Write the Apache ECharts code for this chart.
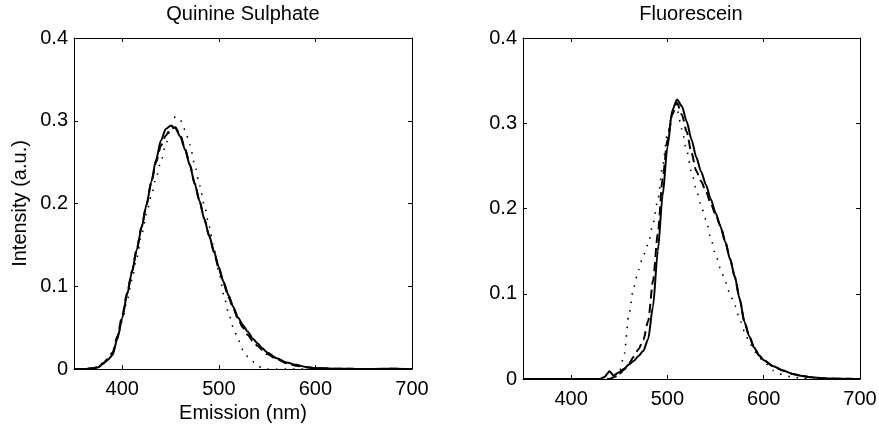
<!DOCTYPE html>
<html>
<head>
<meta charset="utf-8">
<script src="https://cdn.jsdelivr.net/npm/echarts@6/dist/echarts.min.js"></script>
<style>
html,body{margin:0;padding:0;background:#fff;}
#chart{width:879px;height:426px;}
</style>
</head>
<body>
<div id="chart"></div>
<script>
// ---- Panel titles & axis text ----
const panelTitles = ['Quinine Sulphate', 'Fluorescein'];
const xAxisName = 'Emission (nm)';
const yAxisName = 'Intensity (a.u.)';
const xLabelValues = [400, 500, 600, 700];
const xTickValues = [400, 500, 600];

// ---- Quinine Sulphate (left) ----
const qsWl = [350,360,370,375,380,385,390,395,400,405,410,415,420,425,430,435,440,445,450,455,460,465,470,475,480,485,490,495,500,505,510,515,520,525,530,535,540,545,550,560,570,580,590,600,620,640,660,680,700];
const qsSolid = [0,0,0.0005,0.002,0.006,0.011,0.017,0.037,0.062,0.09,0.117,0.144,0.171,0.198,0.226,0.253,0.276,0.29,0.294,0.291,0.281,0.265,0.246,0.224,0.203,0.181,0.161,0.142,0.123,0.105,0.089,0.075,0.062,0.053,0.045,0.037,0.031,0.025,0.02,0.013,0.008,0.005,0.0025,0.0012,0.0004,0.0002,0.0001,0.0004,0];
const qsDashed = [0,0,0.001,0.003,0.007,0.012,0.02,0.04,0.065,0.092,0.118,0.145,0.172,0.198,0.225,0.25,0.27,0.282,0.29,0.292,0.283,0.266,0.247,0.224,0.203,0.181,0.161,0.141,0.121,0.103,0.087,0.073,0.06,0.05,0.041,0.034,0.028,0.023,0.018,0.012,0.007,0.004,0.002,0.001,0.0003,0.0001,0,0.0002,0];
const qsDotted = [0,0,0.001,0.003,0.007,0.012,0.02,0.037,0.058,0.083,0.108,0.135,0.162,0.187,0.209,0.231,0.251,0.271,0.291,0.305,0.301,0.289,0.271,0.247,0.222,0.198,0.172,0.145,0.118,0.09,0.068,0.05,0.035,0.023,0.015,0.009,0.004,0.001,0,0,0,0,0,0,0,0,0,0,0];

// ---- Fluorescein (right) ----
const flWl = [350,360,370,380,390,400,410,420,430,434,440,444,450,455,460,465,470,475,480,485,490,495,500,505,510,515,520,525,530,535,540,545,550,555,560,565,570,575,580,585,590,595,600,610,620,630,640,650,660,680,700];
const flSolid = [0,0,0,0,0,0,0,0,0,0.002,0.009,0.004,0.008,0.012,0.017,0.021,0.027,0.033,0.047,0.085,0.15,0.215,0.272,0.315,0.328,0.32,0.302,0.281,0.26,0.243,0.228,0.211,0.195,0.179,0.161,0.141,0.12,0.094,0.067,0.05,0.037,0.028,0.022,0.015,0.01,0.006,0.0035,0.002,0.001,0.0003,0];
const flDashed = [0,0,0,0,0,0,0,0,0,0,0,0.002,0.006,0.011,0.018,0.026,0.035,0.046,0.068,0.115,0.17,0.235,0.28,0.31,0.324,0.31,0.29,0.265,0.244,0.232,0.22,0.206,0.193,0.18,0.162,0.141,0.12,0.094,0.067,0.05,0.037,0.028,0.022,0.015,0.01,0.006,0.0035,0.002,0.001,0.0003,0];
const flDotted = [0,0,0,0,0,0,0,0,0,0,0,0,0.008,0.028,0.076,0.108,0.128,0.145,0.158,0.182,0.21,0.25,0.288,0.312,0.316,0.293,0.268,0.243,0.222,0.203,0.187,0.165,0.146,0.13,0.114,0.1,0.086,0.07,0.056,0.043,0.033,0.026,0.02,0.01,0.005,0.002,0.001,0,0,0,0];

const FONT = 'Liberation Sans, Arial, Helvetica, sans-serif';
const pairs = (xs, ys) => xs.map((x, i) => [x, ys[i]]);

function xAxisDef(gridIndex, position, showLabel, name) {
  return {
    type: 'value', gridIndex, position, min: 350, max: 700,
    name: name || '', nameLocation: 'middle', nameGap: 33,
    nameTextStyle: { color: '#000', fontSize: 20, fontFamily: FONT },
    axisLine: { show: true, onZero: false, lineStyle: { color: '#000', width: 1 } },
    axisTick: { show: true, inside: true, length: 4, customValues: xTickValues, lineStyle: { color: '#000' } },
    axisLabel: { show: showLabel, customValues: xLabelValues, margin: 10, color: '#000', fontSize: 20, fontFamily: FONT },
    splitLine: { show: false }
  };
}
function yAxisDef(gridIndex, position, showLabel, name) {
  return {
    type: 'value', gridIndex, position, min: 0, max: 0.4, interval: 0.1,
    name: name || '', nameLocation: 'middle', nameGap: 44,
    nameTextStyle: { color: '#000', fontSize: 20, fontFamily: FONT },
    axisLine: { show: true, onZero: false, lineStyle: { color: '#000', width: 1 } },
    axisTick: { show: true, inside: true, length: 4, lineStyle: { color: '#000' } },
    axisLabel: { show: showLabel, margin: 6, color: '#000', fontSize: 20, fontFamily: FONT,
      formatter: v => (v === 0 ? '0' : v.toFixed(1)) },
    splitLine: { show: false }
  };
}
function lineSeries(xi, yi, data, kind) {
  let ls;
  if (kind === 'solid') ls = { color: '#000', width: 2, type: 'solid' };
  else if (kind === 'dashed') ls = { color: '#000', width: 2, type: [9, 5] };
  else ls = { color: '#000', width: 1.6, type: [1.5, 7] };
  return {
    type: 'line', xAxisIndex: xi, yAxisIndex: yi, data, symbol: 'none',
    smooth: 0.25, smoothMonotone: 'x', lineStyle: ls, silent: true,
    z: kind === 'solid' ? 4 : (kind === 'dashed' ? 3 : 2)
  };
}

const chart = echarts.init(document.getElementById('chart'), null, { renderer: 'canvas' });
chart.setOption({
  animation: false,
  backgroundColor: '#fff',
  title: [
    { text: panelTitles[0], left: 243, top: 4, textAlign: 'center', padding: 0,
      textStyle: { color: '#000', fontSize: 20, fontWeight: 'normal', fontFamily: FONT } },
    { text: panelTitles[1], left: 691, top: 4, textAlign: 'center', padding: 0,
      textStyle: { color: '#000', fontSize: 20, fontWeight: 'normal', fontFamily: FONT } }
  ],
  grid: [
    { left: 74, top: 38, width: 338, height: 331, outerBoundsMode: 'none' },
    { left: 523, top: 38, width: 337, height: 341, outerBoundsMode: 'none' }
  ],
  xAxis: [
    xAxisDef(0, 'bottom', true, xAxisName),
    xAxisDef(0, 'top', false),
    xAxisDef(1, 'bottom', true),
    xAxisDef(1, 'top', false)
  ],
  yAxis: [
    yAxisDef(0, 'left', true, yAxisName),
    yAxisDef(0, 'right', false),
    yAxisDef(1, 'left', true),
    yAxisDef(1, 'right', false)
  ],
  series: [
    lineSeries(0, 0, pairs(qsWl, qsDotted), 'dotted'),
    lineSeries(0, 0, pairs(qsWl, qsDashed), 'dashed'),
    lineSeries(0, 0, pairs(qsWl, qsSolid), 'solid'),
    lineSeries(2, 2, pairs(flWl, flDotted), 'dotted'),
    lineSeries(2, 2, pairs(flWl, flDashed), 'dashed'),
    lineSeries(2, 2, pairs(flWl, flSolid), 'solid')
  ]
});
</script>
</body>
</html>
